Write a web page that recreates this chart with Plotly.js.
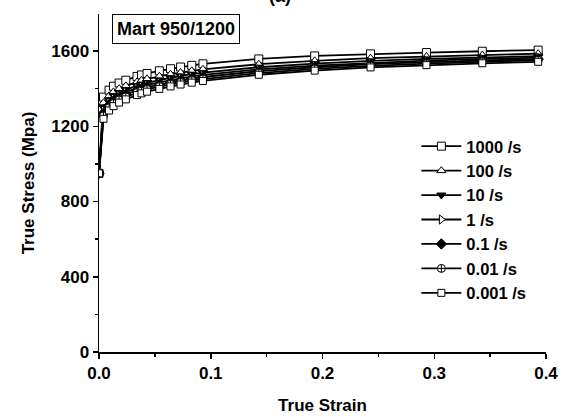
<!DOCTYPE html>
<html>
<head>
<meta charset="utf-8">
<script src="https://cdn.plot.ly/plotly-3.0.1.min.js"></script>
<style>html,body{margin:0;padding:0;background:#fff;}#chart{width:570px;height:417px;}</style>
</head>
<body>
<div id="chart"></div>
<script>
const strain = [0, 0.004, 0.009, 0.013, 0.018, 0.024, 0.034, 0.038, 0.043, 0.054, 0.064, 0.073, 0.083, 0.093, 0.143, 0.193, 0.243, 0.293, 0.343, 0.393];

const rateLabels = ["1000 /s", "100 /s", "10 /s", "1 /s", "0.1 /s", "0.01 /s", "0.001 /s"];

const stress1000 = [950, 1355, 1392, 1413, 1430, 1445, 1465, 1473, 1481, 1495, 1506, 1515, 1524, 1532, 1558, 1574, 1585, 1592, 1599, 1605];
const stress100  = [950, 1325, 1362, 1383, 1400, 1415, 1436, 1444, 1452, 1466, 1477, 1486, 1495, 1503, 1530, 1548, 1562, 1571, 1579, 1586];
const stress10   = [950, 1300, 1340, 1362, 1380, 1395, 1416, 1424, 1432, 1446, 1458, 1468, 1477, 1485, 1514, 1533, 1548, 1558, 1566, 1573];
const stress1    = [950, 1285, 1326, 1348, 1366, 1382, 1403, 1411, 1420, 1434, 1446, 1456, 1465, 1473, 1503, 1523, 1538, 1549, 1558, 1565];
const stress01   = [950, 1270, 1312, 1335, 1353, 1369, 1391, 1399, 1408, 1422, 1434, 1444, 1454, 1462, 1493, 1514, 1530, 1541, 1550, 1558];
const stress001  = [950, 1255, 1298, 1321, 1340, 1356, 1379, 1387, 1396, 1411, 1423, 1433, 1443, 1451, 1483, 1505, 1521, 1533, 1543, 1551];
const stress0001 = [950, 1240, 1284, 1307, 1326, 1343, 1366, 1375, 1384, 1399, 1412, 1422, 1432, 1441, 1474, 1496, 1513, 1525, 1535, 1543];

const xTickVals = [0, 0.1, 0.2, 0.3, 0.4];
const xTickText = ["0.0", "0.1", "0.2", "0.3", "0.4"];
const yTickVals = [0, 400, 800, 1200, 1600];
const yTickText = ["0", "400", "800", "1200", "1600"];

const series = [stress1000, stress100, stress10, stress1, stress01, stress001, stress0001];
const symbols = ["square", "triangle-up", "triangle-down", "triangle-right", "diamond", "circle-cross", "square"];
const fills = ["white", "white", "black", "white", "black", "white", "white"];
const sizes = [8, 8, 8, 8, 8, 8, 7];

const FONT = "Liberation Sans, Arial, sans-serif";
const bold = s => "<b>" + s + "</b>";

const traces = series.map((ys, i) => ({
  type: "scatter",
  mode: "lines+markers",
  x: strain,
  y: ys,
  name: bold(rateLabels[i]),
  line: {color: "black", width: 1.8},
  marker: {symbol: symbols[i], size: sizes[i], color: fills[i], line: {color: "black", width: 1}}
}));

const layout = {
  width: 570, height: 417,
  margin: {l: 99, r: 24, t: 14, b: 65},
  paper_bgcolor: "white", plot_bgcolor: "white",
  font: {family: FONT, size: 17, color: "black"},
  showlegend: true,
  legend: {
    x: 0.71, y: 0.66, xanchor: "left", yanchor: "top",
    bgcolor: "rgba(0,0,0,0)", borderwidth: 0,
    font: {family: FONT, size: 16.5, color: "black"},
    itemwidth: 40, tracegroupgap: 0
  },
  xaxis: {
    range: [0, 0.4], showgrid: false, zeroline: false,
    showline: true, linecolor: "black", linewidth: 1.5, mirror: false,
    ticks: "outside", ticklen: 5, tickwidth: 1.5, tickcolor: "black",
    tickvals: xTickVals, ticktext: xTickText.map(bold),
    minor: {tickvals: [0.05, 0.15, 0.25, 0.35], ticks: "outside", ticklen: 3, tickwidth: 1.5, tickcolor: "black"},
    tickfont: {family: FONT, size: 17, color: "black"},
    title: {text: bold("True Strain"), font: {family: FONT, size: 17, color: "black"}, standoff: 17}
  },
  yaxis: {
    range: [0, 1797], showgrid: false, zeroline: false,
    showline: true, linecolor: "black", linewidth: 1.5, mirror: false,
    ticks: "outside", ticklen: 5, tickwidth: 1.5, tickcolor: "black",
    tickvals: yTickVals, ticktext: yTickText.map(bold),
    minor: {tickvals: [200, 600, 1000, 1400], ticks: "outside", ticklen: 3, tickwidth: 1.5, tickcolor: "black"},
    tickfont: {family: FONT, size: 17, color: "black"},
    title: {text: bold("True Stress (Mpa)"), font: {family: FONT, size: 17, color: "black"}, standoff: 12}
  },
  annotations: [
    {xref: "paper", yref: "paper", x: 0.172, y: 0.956, xanchor: "center", yanchor: "middle",
     text: bold("Mart 950/1200"), showarrow: false, font: {family: FONT, size: 18, color: "black"},
     bordercolor: "black", borderwidth: 1, borderpad: 4, bgcolor: "white"},
    {xref: "paper", yref: "paper", x: 0.405, y: 1.053, xanchor: "center", yanchor: "middle",
     text: bold("(a)"), showarrow: false, font: {family: FONT, size: 18, color: "black"}}
  ]
};

Plotly.newPlot("chart", traces, layout, {displayModeBar: false, staticPlot: true});
</script>
</body>
</html>
